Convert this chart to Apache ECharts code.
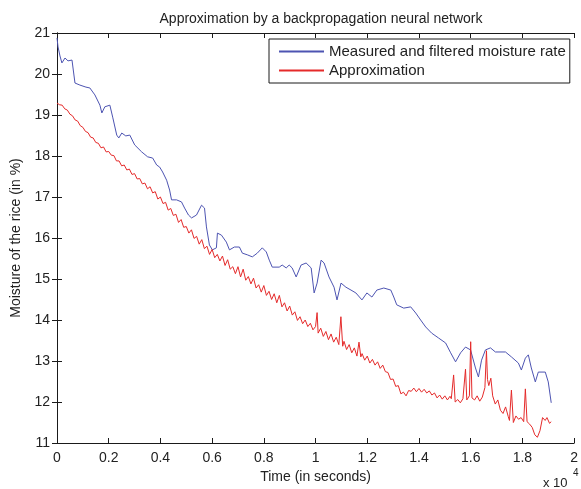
<!DOCTYPE html>
<html>
<head>
<meta charset="utf-8">
<script src="https://cdn.jsdelivr.net/npm/echarts@6/dist/echarts.min.js"></script>
<style>
html,body{margin:0;padding:0;background:#fff;}
#chart{width:581px;height:489px;}
</style>
</head>
<body>
<div id="chart"></div>
<script>
const chartTitle = 'Approximation by a backpropagation neural network';
const seriesNames = ['Measured and filtered moisture rate', 'Approximation'];
const xAxisName = 'Time (in seconds)';
const yAxisName = 'Moisture of the rice (in %)';
const xScaleFactor = 10000;

// [time (s), moisture (%)]
const measured = [
[0,20.88],[40,20.66],[115,20.44],[190,20.27],[310,20.39],[425,20.32],[580,20.34],[695,19.78],[885,19.73],[1120,19.68],
[1270,19.66],[1465,19.49],[1660,19.24],[1735,19.05],[1850,19.2],[2045,19.24],[2160,18.93],[2310,18.51],[2390,18.44],[2505,18.56],
[2660,18.49],[2815,18.51],[3005,18.27],[3275,18.1],[3505,17.98],[3700,17.95],[3855,17.78],[3970,17.73],[4085,17.61],[4240,17.41],
[4355,17.17],[4430,16.93],[4625,16.93],[4815,16.88],[4935,16.73],[5085,16.56],[5205,16.49],[5395,16.56],[5590,16.8],[5705,16.73],
[5780,16.27],[5895,15.83],[6010,15.71],[6165,15.76],[6205,16.12],[6360,16.07],[6550,15.9],[6670,15.71],[6860,15.78],[7055,15.78],
[7170,15.63],[7360,15.59],[7555,15.54],[7745,15.63],[7940,15.76],[8095,15.66],[8210,15.46],[8325,15.29],[8595,15.29],[8710,15.34],
[8865,15.27],[8980,15.34],[9095,15.27],[9250,15.05],[9440,15.34],[9635,15.39],[9830,15.27],[9945,14.66],[10060,14.9],[10215,15.46],
[10330,15.39],[10520,15.05],[10715,14.8],[10830,14.49],[10985,14.9],[11175,14.8],[11370,14.73],[11560,14.66],[11795,14.49],[11985,14.66],
[12180,14.56],[12370,14.73],[12640,14.78],[12910,14.73],[13025,14.56],[13140,14.37],[13410,14.29],[13680,14.32],[13875,14.17],[14065,14.0],
[14260,13.83],[14490,13.68],[14760,13.56],[15030,13.44],[15225,13.2],[15415,12.98],[15610,13.2],[15800,13.34],[15995,13.27],[16185,12.83],
[16300,12.61],[16420,13.02],[16570,13.27],[16765,13.32],[16955,13.22],[17345,13.22],[17575,13.1],[17845,12.95],[17960,12.78],[18115,13.07],
[18230,13.15],[18345,12.83],[18500,12.49],[18615,12.73],[18885,12.73],[19000,12.49],[19115,11.98]
];

const approximation = [
[0,19.29],[100,19.25],[200,19.24],[300,19.15],[400,19.12],[500,19.02],[600,18.98],[700,18.88],[800,18.85],[900,18.74],
[1000,18.70],[1100,18.60],[1200,18.57],[1300,18.46],[1400,18.44],[1500,18.33],[1600,18.31],[1700,18.20],[1800,18.22],[1900,18.10],
[2000,18.11],[2100,18.02],[2200,18.01],[2300,17.88],[2400,17.88],[2500,17.76],[2600,17.78],[2700,17.66],[2800,17.68],[2900,17.55],
[3000,17.57],[3100,17.44],[3200,17.45],[3300,17.32],[3400,17.34],[3500,17.20],[3600,17.25],[3700,17.10],[3800,17.13],[3900,16.95],
[4000,17.00],[4100,16.84],[4200,16.87],[4300,16.68],[4400,16.72],[4500,16.55],[4600,16.58],[4700,16.38],[4800,16.45],[4900,16.26],
[5000,16.28],[5100,16.12],[5200,16.20],[5300,15.99],[5400,16.04],[5500,15.85],[5600,15.96],[5700,15.74],[5800,15.80],[5900,15.60],
[6000,15.72],[6100,15.52],[6200,15.60],[6300,15.44],[6400,15.56],[6500,15.33],[6600,15.47],[6700,15.24],[6800,15.30],[6900,15.13],
[7000,15.30],[7100,15.05],[7200,15.24],[7300,14.97],[7400,15.06],[7500,14.88],[7600,15.02],[7700,14.78],[7800,14.86],[7900,14.68],
[8000,14.84],[8100,14.60],[8200,14.70],[8300,14.50],[8400,14.64],[8500,14.42],[8600,14.60],[8700,14.32],[8800,14.42],[8900,14.22],
[9000,14.34],[9100,14.12],[9200,14.20],[9300,13.99],[9400,14.08],[9500,13.91],[9600,14.00],[9700,13.84],[9800,13.92],[9900,13.76],
[10000,13.84],[10060,14.18],[10100,13.68],[10200,13.80],[10300,13.60],[10400,13.72],[10500,13.52],[10600,13.66],[10700,13.46],[10800,13.58],
[10900,13.40],[10980,14.08],[11050,13.36],[11100,13.48],[11200,13.28],[11300,13.40],[11400,13.20],[11500,13.32],[11600,13.12],[11680,13.46],
[11750,13.10],[11800,13.18],[11900,13.02],[12000,13.12],[12100,12.95],[12200,13.04],[12300,12.90],[12400,12.98],[12500,12.82],[12600,12.90],
[12700,12.74],[12800,12.72],[12900,12.55],[13000,12.56],[13100,12.38],[13200,12.40],[13300,12.20],[13400,12.24],[13500,12.15],[13600,12.28],
[13700,12.26],[13800,12.34],[13900,12.25],[14000,12.33],[14100,12.24],[14200,12.31],[14300,12.22],[14400,12.27],[14500,12.17],[14600,12.22],
[14700,12.10],[14800,12.17],[14900,12.07],[15000,12.15],[15100,12.05],[15200,12.14],[15250,12.08],[15340,12.66],[15400,12.00],[15500,12.06],
[15600,11.98],[15700,12.08],[15800,12.80],[15850,12.05],[15950,12.15],[16000,13.47],[16050,12.10],[16150,12.05],[16250,12.15],[16350,12.02],
[16450,12.12],[16550,12.35],[16610,13.25],[16650,12.55],[16700,12.40],[16780,12.58],[16850,12.15],[16950,11.95],[17050,12.05],[17150,11.80],
[17250,11.72],[17350,11.88],[17450,11.65],[17500,11.55],[17575,12.29],[17650,11.50],[17750,11.66],[17850,11.58],[17950,11.62],[18050,11.52],
[18115,12.32],[18180,11.52],[18280,11.46],[18380,11.38],[18480,11.20],[18580,11.14],[18680,11.30],[18780,11.62],[18880,11.55],[18950,11.62],
[19050,11.48],[19115,11.52]
];

const xMin = 0, xMax = 20000, xStep = 2000;
const yMin = 11, yMax = 21, yStep = 1;

const FONT = "'Liberation Sans', Arial, sans-serif";
const chart = echarts.init(document.getElementById('chart'), null, {renderer: 'canvas'});

const axisLine = {show: true, lineStyle: {color: '#1a1a1a', width: 1}};
const axisTick = {show: true, inside: true, length: 5, lineStyle: {color: '#1a1a1a', width: 1}};

chart.setOption({
  animation: false,
  backgroundColor: '#ffffff',
  title: {
    text: chartTitle,
    left: 316, top: 7, textAlign: 'center',
    textStyle: {fontFamily: FONT, fontSize: 14, fontWeight: 'normal', color: '#222'}
  },
  legend: {
    left: 269, top: 39, orient: 'vertical',
    backgroundColor: '#fff', borderColor: '#1a1a1a', borderWidth: 1,
    padding: [5, 4, 5, 9], itemWidth: 45, itemHeight: 14, itemGap: 4,
    itemStyle: {opacity: 0},
    textStyle: {fontFamily: FONT, fontSize: 15, color: '#222'},
    data: seriesNames
  },
  grid: {left: 57, right: 5, top: 33, bottom: 46, containLabel: false},
  xAxis: [{
    type: 'value', min: xMin, max: xMax, interval: xStep, position: 'bottom',
    axisLine: axisLine, axisTick: axisTick, splitLine: {show: false},
    axisLabel: {fontFamily: FONT, fontSize: 14, color: '#222', margin: 8,
      formatter: v => String(+(v / xScaleFactor).toFixed(1))},
    name: xAxisName, nameLocation: 'middle', nameGap: 26,
    nameTextStyle: {fontFamily: FONT, fontSize: 14, color: '#222'}
  }, {
    type: 'value', min: xMin, max: xMax, interval: xStep, position: 'top',
    axisLine: axisLine, axisTick: axisTick, splitLine: {show: false},
    axisLabel: {show: false}
  }],
  yAxis: [{
    type: 'value', min: yMin, max: yMax, interval: yStep, position: 'left',
    axisLine: axisLine, axisTick: axisTick, splitLine: {show: false},
    axisLabel: {fontFamily: FONT, fontSize: 14, color: '#222', margin: 7},
    name: yAxisName, nameLocation: 'middle', nameGap: 28,
    nameTextStyle: {fontFamily: FONT, fontSize: 14, color: '#222'}
  }, {
    type: 'value', min: yMin, max: yMax, interval: yStep, position: 'right',
    axisLine: axisLine, axisTick: axisTick, splitLine: {show: false},
    axisLabel: {show: false}
  }],
  graphic: [
    {type: 'text', left: 543, top: 477, style: {text: 'x 10', font: '13px ' + FONT, fill: '#222'}},
    {type: 'text', left: 573, top: 468, style: {text: '4', font: '10px ' + FONT, fill: '#222'}}
  ],
  series: [{
    name: seriesNames[0], type: 'line', data: measured, symbol: 'none',
    lineStyle: {color: '#4d54b2', width: 1}, itemStyle: {color: '#4d54b2'}, z: 2
  }, {
    name: seriesNames[1], type: 'line', data: approximation, symbol: 'none',
    lineStyle: {color: '#e52a2a', width: 1}, itemStyle: {color: '#e52a2a'}, z: 3
  }]
});
</script>
</body>
</html>
